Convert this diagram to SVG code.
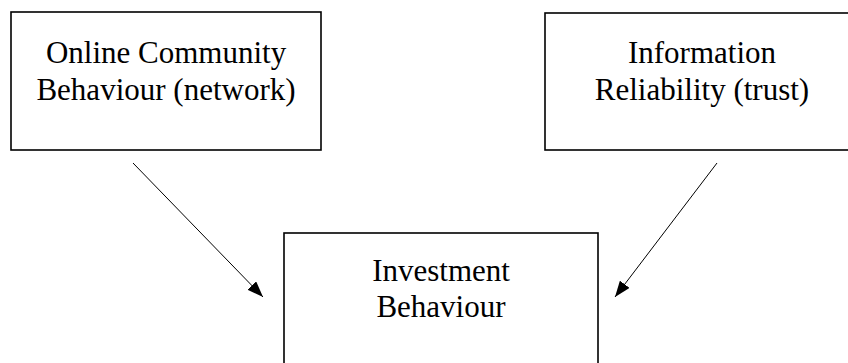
<svg xmlns="http://www.w3.org/2000/svg" width="848" height="363" viewBox="0 0 848 363">
<defs>
<style>
.box{fill:#fff;stroke:#000;stroke-width:1.6}
.lbl{font-family:"Liberation Serif","Times New Roman",serif;font-size:31px;fill:#000;text-anchor:middle}
.conn{stroke:#000;stroke-width:1;fill:none;marker-end:url(#ah)}
</style>
<marker id="ah" markerUnits="userSpaceOnUse" markerWidth="16" markerHeight="12" refX="16" refY="6" orient="auto">
<path d="M0,0 L16,6 L0,12 Z" fill="#000"/>
</marker>
</defs>
<rect width="848" height="363" fill="#fff"/>
<g id="node-online">
<rect class="box" x="11" y="12" width="310" height="138"/>
<text class="lbl" x="166" y="63">Online Community</text>
<text class="lbl" x="166" y="100">Behaviour (network)</text>
</g>
<g id="node-info">
<rect class="box" x="545" y="13" width="320" height="137"/>
<text class="lbl" x="702" y="63">Information</text>
<text class="lbl" x="702" y="100">Reliability (trust)</text>
</g>
<g id="node-invest">
<rect class="box" x="284" y="233" width="314" height="140"/>
<text class="lbl" x="441" y="281">Investment</text>
<text class="lbl" x="441" y="317">Behaviour</text>
</g>
<g id="connectors">
<line class="conn" x1="133" y1="163" x2="263" y2="297"/>
<line class="conn" x1="717" y1="163" x2="615" y2="297"/>
</g>
</svg>
